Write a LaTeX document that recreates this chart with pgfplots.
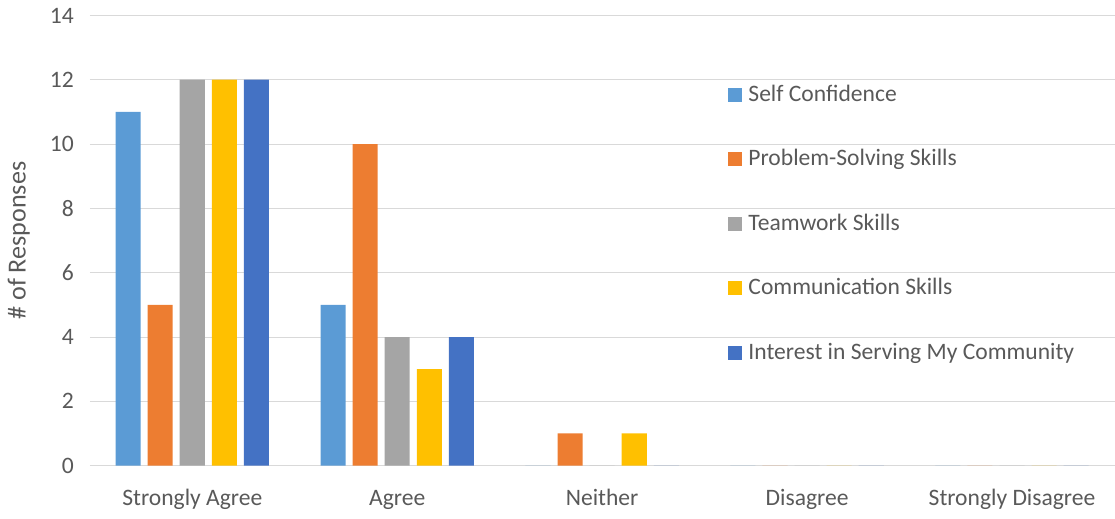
\documentclass[border=0pt]{standalone}
\usepackage{pgfplots}
\pgfplotsset{compat=1.18}
\usepackage{fontspec}
\setmainfont{Carlito}
\definecolor{c1}{HTML}{5B9BD5}
\definecolor{c2}{HTML}{ED7D31}
\definecolor{c3}{HTML}{A5A5A5}
\definecolor{c4}{HTML}{FFC000}
\definecolor{c5}{HTML}{4472C4}
\definecolor{gridc}{HTML}{D9D9D9}
\definecolor{txt}{HTML}{595959}
\begin{document}
\fontsize{23.5}{28}\selectfont
\begin{tikzpicture}
\begin{axis}[
  scale only axis,
  width=1022pt, height=449pt,
  ybar=7pt, bar width=25pt,
  xmin=-0.5, xmax=4.5,
  ymin=0, ymax=14,
  xtick=data,
  xticklabels={Strongly Agree,Agree,Neither,Disagree,Strongly Disagree},
  ytick={0,2,...,14},
  ymajorgrids, xmajorgrids=false,
  grid style={color=gridc, line width=1pt},
  axis x line*=bottom, axis y line*=left,
  x axis line style={color=gridc, line width=1pt, -},
  y axis line style={draw=none},
  major tick length=0pt,
  tick label style={text=txt, font=\fontsize{23.5}{28}\selectfont},
  /pgf/number format/assume math mode=true,
  yticklabel style={xshift=-8pt},
  xticklabel style={yshift=-16pt, text height=16pt, text depth=5pt},
  ylabel={\# of Responses},
  ylabel style={text=txt, font=\fontsize{26}{30}\selectfont, yshift=4pt},
  legend style={draw=none, fill=none, at={(0.623,0.855)}, anchor=north west,
    font=\fontsize{23.5}{28}\selectfont, text=txt, row sep=40.5pt,
    legend cell align=left, inner xsep=0pt},
  legend image code/.code={\fill[#1] (0pt,-7pt) rectangle (14pt,7pt);},
  every axis plot/.append style={draw=none},
]
\addplot[fill=c1] coordinates {(0,11) (1,5) (2,0) (3,0) (4,0)};
\addplot[fill=c2] coordinates {(0,5) (1,10) (2,1) (3,0) (4,0)};
\addplot[fill=c3] coordinates {(0,12) (1,4) (2,0) (3,0) (4,0)};
\addplot[fill=c4] coordinates {(0,12) (1,3) (2,1) (3,0) (4,0)};
\addplot[fill=c5] coordinates {(0,12) (1,4) (2,0) (3,0) (4,0)};
\legend{\hspace{4pt}Self Confidence,\hspace{4pt}Problem-Solving Skills,\hspace{4pt}Teamwork Skills,\hspace{4pt}Communication Skills,\hspace{4pt}Interest in Serving My Community}
\end{axis}
\end{tikzpicture}
\end{document}
